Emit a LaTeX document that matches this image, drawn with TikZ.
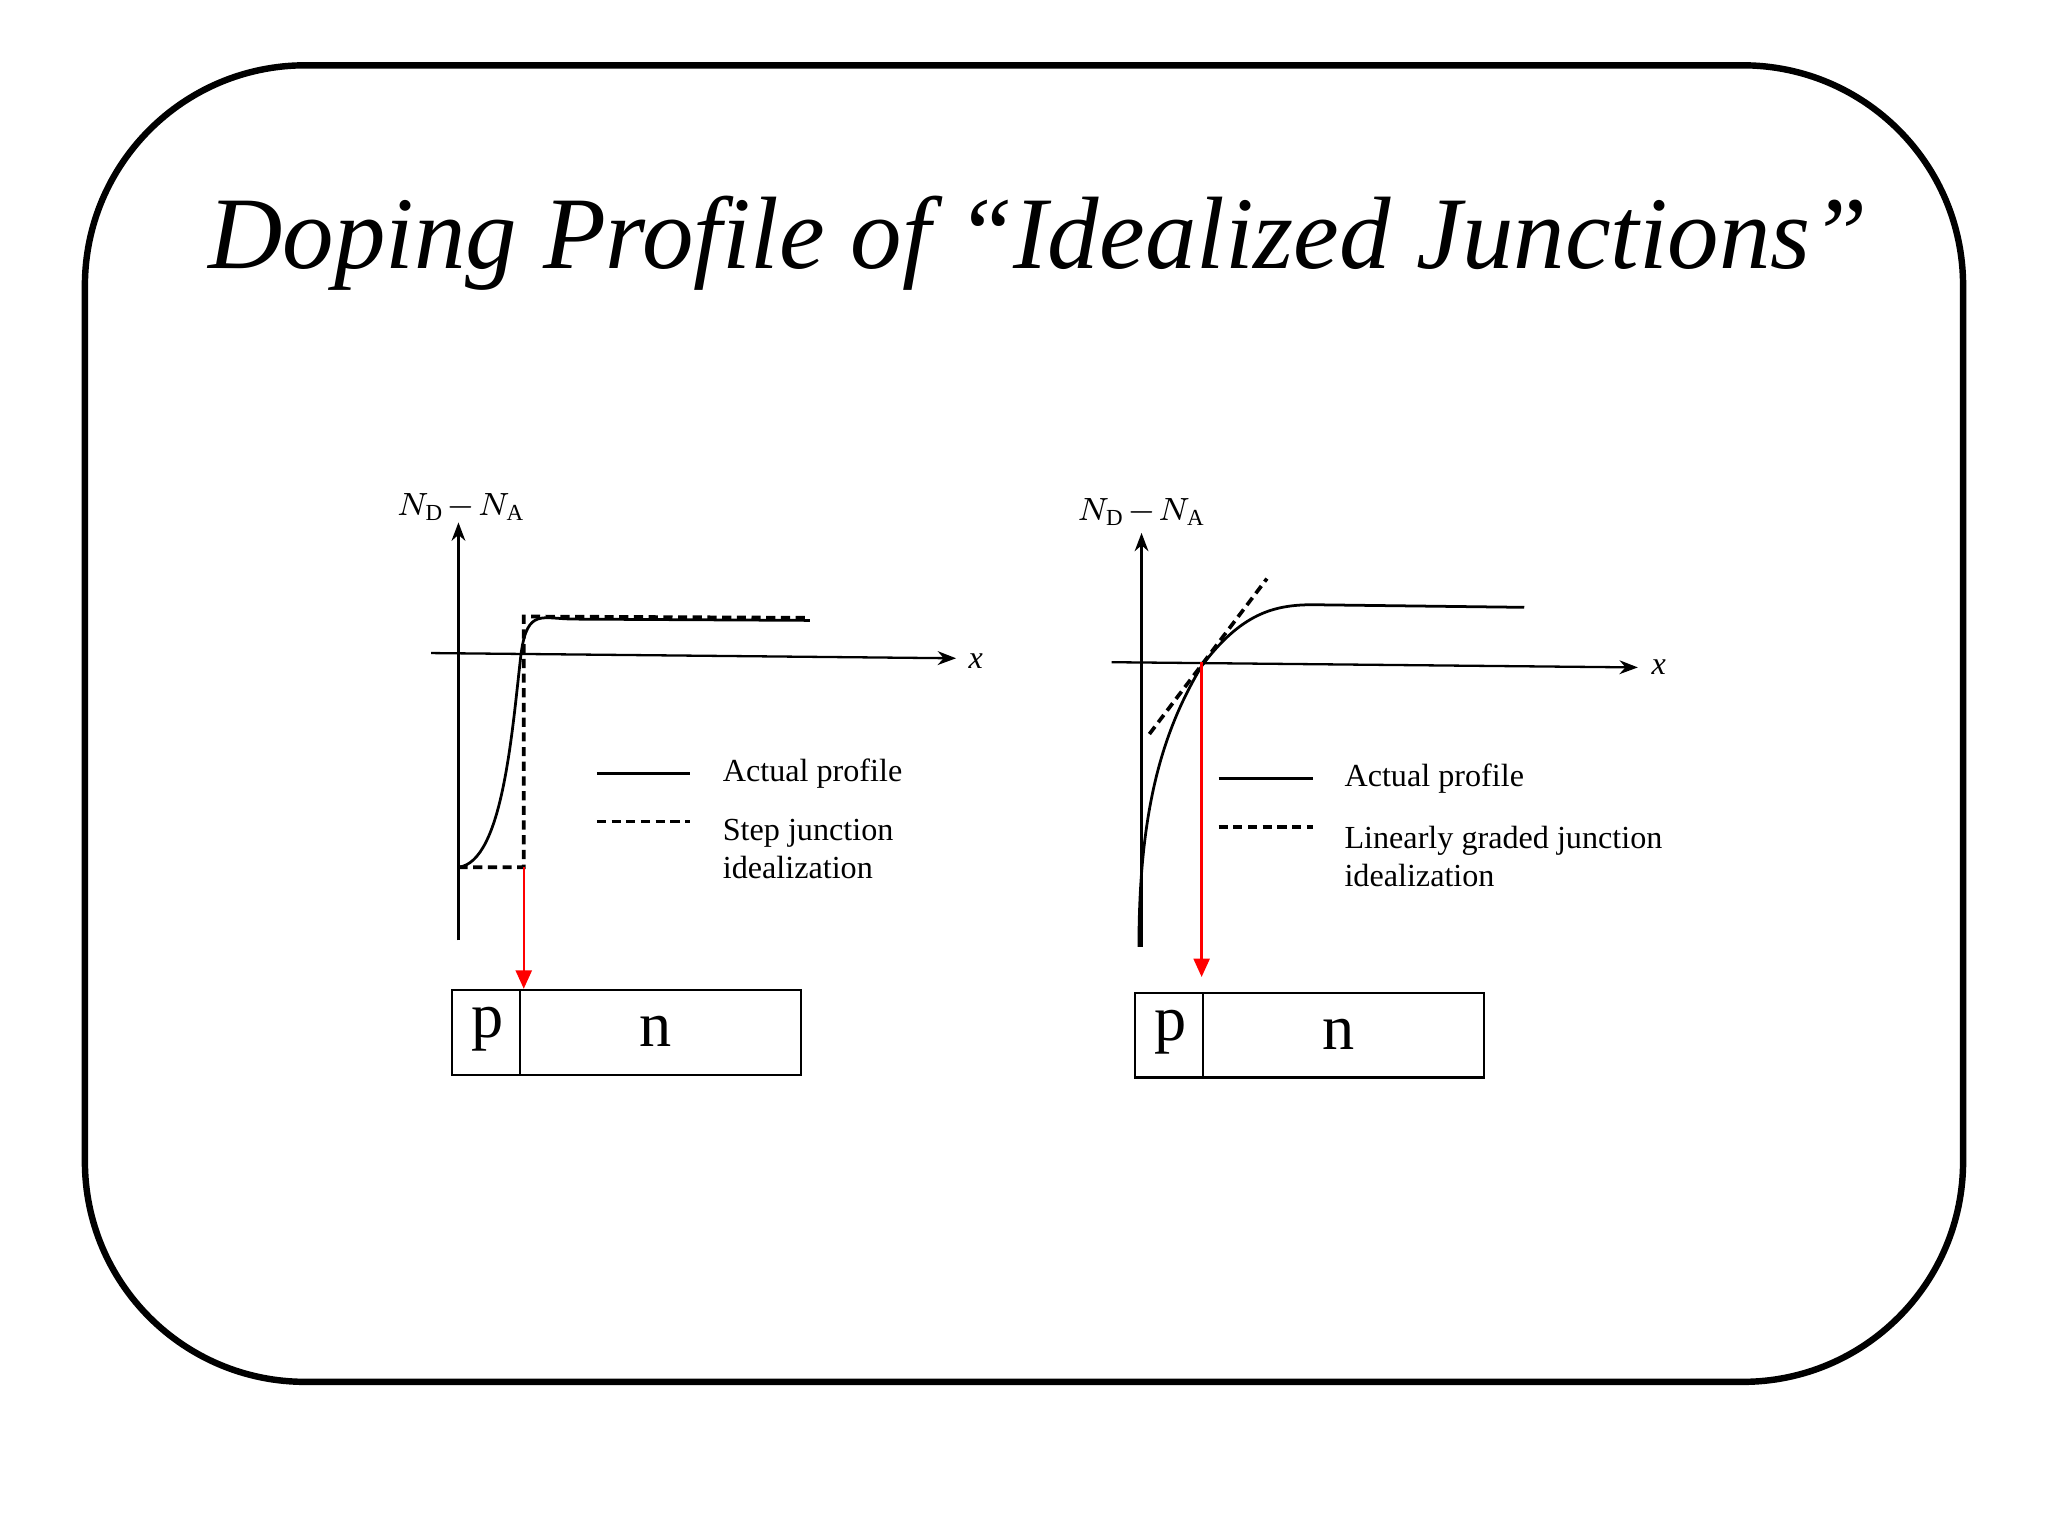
\documentclass[tikz,border=0pt]{standalone}
\usepackage{fontspec}
\setmainfont{Liberation Serif}
\usetikzlibrary{arrows.meta}
\begin{document}
\begin{tikzpicture}[x=0.01cm,y=-0.01cm,
  lg/.style={font=\fontsize{7}{8.3}\selectfont,anchor=west,align=left},
  ax/.style={line width=0.5pt,-{Stealth[length=4pt]}},
  cur/.style={line width=0.6pt},
  dsh/.style={line width=0.8pt,dash pattern=on 2pt off 1.2pt},
  red/.style={draw=red,line width=0.5pt,-{Triangle[length=4pt,width=3.5pt]}},
  big/.style={font=\fontsize{14}{16}\selectfont}]
\useasboundingbox (0,0) rectangle (1568,1176);
\draw[line width=1.4pt,rounded corners=48pt] (65,50) rectangle (1503,1058);
\node[font=\fontsize{22.4}{26}\selectfont\itshape] (title) at (795,186) {Doping Profile of “Idealized Junctions”};
% left plot
\coordinate (ly0) at (351,720); \coordinate (ly1) at (351,400);
\coordinate (lx0) at (330,500); \coordinate (lx1) at (732,504);
\draw[ax] (ly0) -- (ly1);
\draw[ax] (lx0) -- (lx1);
\node[font=\fontsize{7}{8}\selectfont\itshape] (lxl) at (747,506) {x};
\node[font=\fontsize{7}{8}\selectfont] (lyl) at (353,388) {$N_{\mathrm D}\!-\!N_{\mathrm A}$};
\draw[dsh] (351,664) -- (401,664) -- (401,472) -- (620,473);
\draw[cur] (351,664) .. controls (385,660) and (392,560) .. (399,500) .. controls (404,465) and (415,474) .. (440,474) -- (620,475);
\draw[cur] (457,592) -- (528,592);
\node[lg] (l1) at (541,592) {Actual profile};
\draw[dsh] (457,629) -- (528,629);
\node[lg,anchor=north west] (l2) at (541,615) {Step junction\\idealization};
\coordinate (la) at (401,664);
\node[draw,line width=0.5pt,minimum width=267*0.01cm,minimum height=65*0.01cm,inner sep=0] (lbox) at (479.5,790.5) {};
\draw[line width=0.5pt] (398,758) -- (398,823);
\node[big] (lp) at (373,788) {p};
\node[big] (ln) at (502,790) {n};
\draw[red] (la) -- (401,757);
% right plot
\draw[ax] (874,725) -- (874,408);
\draw[ax] (851,507) -- (1254,511);
\node[font=\fontsize{7}{8}\selectfont\itshape] (rxl) at (1270,511) {x};
\node[font=\fontsize{7}{8}\selectfont] (ryl) at (874,392) {$N_{\mathrm D}\!-\!N_{\mathrm A}$};
\draw[cur] (872,725) .. controls (872,620) and (890,560) .. (920,510) .. controls (950,470) and (975,463) .. (1005,463) -- (1167,465);
\draw[dsh] (880,562) -- (970,443);
\draw[cur] (933,596) -- (1005,596);
\node[lg] (r1) at (1017,596) {Actual profile};
\draw[dsh] (933,633) -- (1005,633);
\node[lg,anchor=north west] (r2) at (1017,620) {Linearly graded junction\\idealization};
\coordinate (ra) at (920,507);
\node[draw,line width=0.5pt,minimum width=267*0.01cm,minimum height=65*0.01cm,inner sep=0] (rbox) at (1002.5,792.5) {};
\draw[line width=0.5pt] (921,760) -- (921,825);
\node[big] (rp) at (896,790) {p};
\node[big] (rn) at (1025,792) {n};
\draw[red] (ra) -- (920,748);
\end{tikzpicture}
\end{document}
